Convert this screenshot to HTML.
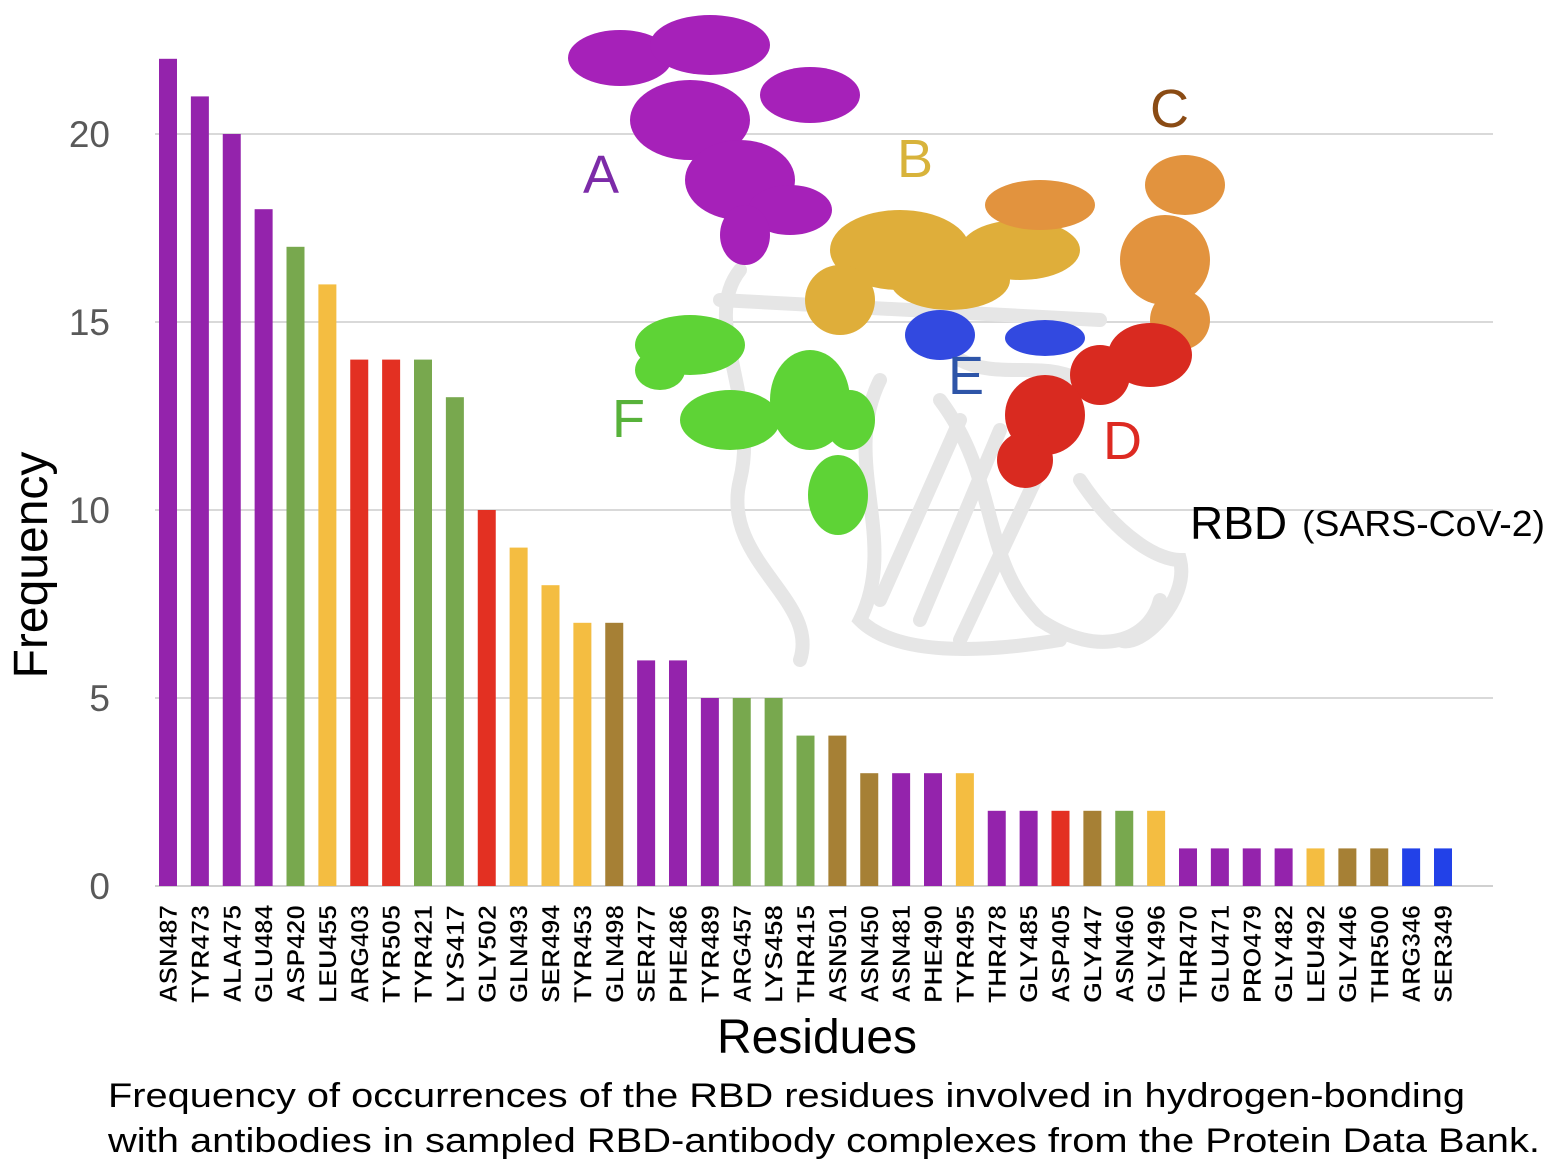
<!DOCTYPE html>
<html><head><meta charset="utf-8"><style>
html,body{margin:0;padding:0;background:#fff;}
svg{display:block;font-family:"Liberation Sans",sans-serif;}
</style></head><body>
<svg id="chart" width="1552" height="1170" viewBox="0 0 1552 1170" xmlns="http://www.w3.org/2000/svg">
<g id="grid"></g>
<g id="bars"></g>
<g id="protein">
  <g fill="none" stroke="#e6e6e6" stroke-width="14" stroke-linecap="round">
    <path d="M740 270 C700 320 760 400 740 480 C720 560 820 600 800 660"/>
    <path d="M880 380 C840 460 900 540 860 620 C900 660 1000 650 1060 640"/>
    <path d="M940 400 C1000 480 980 560 1040 620 C1100 660 1150 640 1160 600"/>
    <path d="M1080 480 C1120 540 1160 560 1180 560 C1190 600 1140 650 1120 640"/>
    <path d="M960 420 L880 600 M1000 430 L920 620 M1040 470 L960 640"/>
    <path d="M720 300 L1100 320 M960 360 C1000 380 1040 360 1080 380"/>
  </g>
  <g fill="#a621b9">
    <ellipse cx="620" cy="58" rx="52" ry="28"/><ellipse cx="710" cy="45" rx="60" ry="30"/>
    <ellipse cx="810" cy="95" rx="50" ry="28"/><ellipse cx="690" cy="120" rx="60" ry="40"/>
    <ellipse cx="740" cy="180" rx="55" ry="40"/><ellipse cx="790" cy="210" rx="42" ry="25"/>
    <ellipse cx="745" cy="235" rx="25" ry="30"/>
  </g>
  <g fill="#dfae3a">
    <ellipse cx="900" cy="250" rx="70" ry="40"/><ellipse cx="1020" cy="250" rx="60" ry="30"/>
    <ellipse cx="840" cy="300" rx="35" ry="35"/><ellipse cx="950" cy="280" rx="60" ry="30"/>
  </g>
  <g fill="#e2933e">
    <ellipse cx="1040" cy="205" rx="55" ry="25"/><ellipse cx="1185" cy="185" rx="40" ry="30"/>
    <ellipse cx="1165" cy="260" rx="45" ry="45"/><ellipse cx="1180" cy="320" rx="30" ry="30"/>
  </g>
  <g fill="#5ed336">
    <ellipse cx="690" cy="345" rx="55" ry="30"/><ellipse cx="730" cy="420" rx="50" ry="30"/>
    <ellipse cx="810" cy="400" rx="40" ry="50"/><ellipse cx="850" cy="420" rx="25" ry="30"/>
    <ellipse cx="838" cy="495" rx="30" ry="40"/><ellipse cx="660" cy="370" rx="25" ry="20"/>
  </g>
  <g fill="#3249e0">
    <ellipse cx="940" cy="335" rx="35" ry="25"/><ellipse cx="1045" cy="338" rx="40" ry="18"/>
  </g>
  <g fill="#d92a20">
    <ellipse cx="1150" cy="355" rx="42" ry="32"/><ellipse cx="1100" cy="375" rx="30" ry="30"/>
    <ellipse cx="1045" cy="415" rx="40" ry="40"/><ellipse cx="1025" cy="460" rx="28" ry="28"/>
  </g>
  <text x="583" y="193" font-size="54" fill="#7c2ba8">A</text>
  <text x="897" y="177" font-size="54" fill="#d8b33b">B</text>
  <text x="1150" y="127" font-size="54" fill="#8a4b14">C</text>
  <text x="1103" y="459" font-size="54" fill="#dd2a22">D</text>
  <text x="948" y="394" font-size="54" fill="#2e55a8">E</text>
  <text x="612" y="437" font-size="54" fill="#57b23a">F</text>
  <text x="1190" y="539" font-size="46" fill="#000">RBD</text>
  <text x="1302" y="536" font-size="36" fill="#000" textLength="243" lengthAdjust="spacingAndGlyphs">(SARS-CoV-2)</text>
</g>
<g id="yticks"></g>
<g id="xticks"></g>
<text x="0" y="0" transform="translate(47,565) rotate(-90)" text-anchor="middle" font-size="48" fill="#000">Frequency</text>
<text x="817" y="1053" text-anchor="middle" font-size="48" fill="#000">Residues</text>
<text x="108" y="1107" font-size="34" fill="#000" textLength="1357" lengthAdjust="spacingAndGlyphs">Frequency of occurrences of the RBD residues involved in hydrogen-bonding</text>
<text x="108" y="1152" font-size="34" fill="#000" textLength="1432" lengthAdjust="spacingAndGlyphs">with antibodies in sampled RBD-antibody complexes from the Protein Data Bank.</text>
</svg>
<script>
const residues = ["ASN487","TYR473","ALA475","GLU484","ASP420","LEU455","ARG403","TYR505","TYR421","LYS417","GLY502","GLN493","SER494","TYR453","GLN498","SER477","PHE486","TYR489","ARG457","LYS458","THR415","ASN501","ASN450","ASN481","PHE490","TYR495","THR478","GLY485","ASP405","GLY447","ASN460","GLY496","THR470","GLU471","PRO479","GLY482","LEU492","GLY446","THR500","ARG346","SER349"];
const frequencies = [22,21,20,18,17,16,14,14,14,13,10,9,8,7,7,6,6,5,5,5,4,4,3,3,3,3,2,2,2,2,2,2,1,1,1,1,1,1,1,1,1];
const regions = ["A","A","A","A","F","B","D","D","F","F","D","B","B","B","C","A","A","A","F","F","F","C","C","A","A","B","A","A","D","C","F","B","A","A","A","A","B","C","C","E","E"];
const yTicks = [0,5,10,15,20];
const regionColors = {A:"#9423ac",B:"#f4bd41",C:"#a68035",D:"#e33022",E:"#2241e8",F:"#78a84e"};
const NS="http://www.w3.org/2000/svg";
const y0=886, pxPerUnit=37.6, x0=168, step=31.875, barW=18, gx1=155, gx2=1493;
const yScale=v=>y0-v*pxPerUnit;
const xScale=i=>x0+i*step;
const grid=document.getElementById('grid'), yt=document.getElementById('yticks');
yTicks.forEach(t=>{
  const l=document.createElementNS(NS,'line');
  l.setAttribute('x1',gx1);l.setAttribute('x2',gx2);l.setAttribute('y1',yScale(t));l.setAttribute('y2',yScale(t));
  l.setAttribute('stroke',t===0?'#d0d0d0':'#d9d9d9');l.setAttribute('stroke-width',2);
  
  
  grid.appendChild(l);
  const tx=document.createElementNS(NS,'text');
  tx.setAttribute('x',110);tx.setAttribute('y',yScale(t)+13);tx.setAttribute('text-anchor','end');
  tx.setAttribute('font-size','37');tx.setAttribute('fill','#595959');tx.textContent=t;
  
  
  yt.appendChild(tx);
});
const bars=document.getElementById('bars'), xt=document.getElementById('xticks');
residues.forEach((r,i)=>{
  const v=frequencies[i];
  const b=document.createElementNS(NS,'rect');
  b.setAttribute('x',xScale(i)-barW/2);b.setAttribute('y',yScale(v));
  b.setAttribute('width',barW);b.setAttribute('height',v*pxPerUnit);
  b.setAttribute('fill',regionColors[regions[i]]);
  
  
  bars.appendChild(b);
  const t=document.createElementNS(NS,'text');
  t.setAttribute('transform','translate('+(xScale(i)+9)+',905) rotate(-90)');
  t.setAttribute('text-anchor','end');t.setAttribute('font-size','25');t.setAttribute('fill','#000');
  t.setAttribute('font-weight','bold');t.setAttribute('stroke','#fff');t.setAttribute('stroke-width','0.6');
  t.setAttribute('textLength','98');t.setAttribute('lengthAdjust','spacingAndGlyphs');
  t.textContent=r;
  
  
  xt.appendChild(t);
});
</script>
</body></html>
